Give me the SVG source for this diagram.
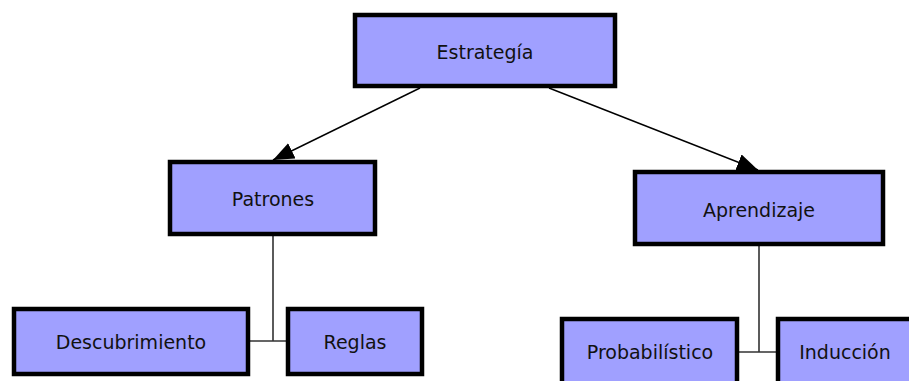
<svg xmlns="http://www.w3.org/2000/svg" width="909" height="381" viewBox="0 0 909 381">
  <style>
    .box { fill: #a0a0ff; stroke: #000; stroke-width: 4.5; }
    .label { font-family: "DejaVu Sans", Verdana, sans-serif; font-size: 19px; fill: #111; text-anchor: middle; }
    .arrow { stroke: #000; stroke-width: 1.4; fill: none; }
    .tree { stroke: #333; stroke-width: 1.6; fill: none; }
  </style>
  <defs>
    <marker id="head" markerUnits="userSpaceOnUse" markerWidth="22" markerHeight="18" refX="21" refY="8.5" orient="auto">
      <path d="M0,0 L21,8.5 L0,17 z" fill="#000"/>
    </marker>
  </defs>

  <g id="connectors">
    <line class="arrow" x1="420" y1="88" x2="273" y2="160" marker-end="url(#head)"/>
    <line class="arrow" x1="549" y1="88" x2="758" y2="170" marker-end="url(#head)"/>
    <path class="tree" d="M273,236 V341 M250,341 H286"/>
    <path class="tree" d="M759,246 V352 M739,352 H776"/>
  </g>

  <g id="estrategia">
    <rect class="box" x="355" y="15" width="260" height="71"/>
    <text class="label" x="485" y="59">Estrategía</text>
  </g>

  <g id="patrones">
    <rect class="box" x="170" y="162" width="205" height="72"/>
    <text class="label" x="273" y="206">Patrones</text>
  </g>

  <g id="aprendizaje">
    <rect class="box" x="635" y="172" width="248" height="72"/>
    <text class="label" x="759" y="217">Aprendizaje</text>
  </g>

  <g id="descubrimiento">
    <rect class="box" x="14" y="309" width="234" height="65"/>
    <text class="label" x="131" y="349">Descubrimiento</text>
  </g>

  <g id="reglas">
    <rect class="box" x="288" y="309" width="134" height="65"/>
    <text class="label" x="355" y="349">Reglas</text>
  </g>

  <g id="probabilistico">
    <rect class="box" x="562" y="319" width="175" height="70"/>
    <text class="label" x="650" y="359">Probabilístico</text>
  </g>

  <g id="induccion">
    <rect class="box" x="778" y="319" width="140" height="70"/>
    <text class="label" x="845" y="359">Inducción</text>
  </g>
</svg>
